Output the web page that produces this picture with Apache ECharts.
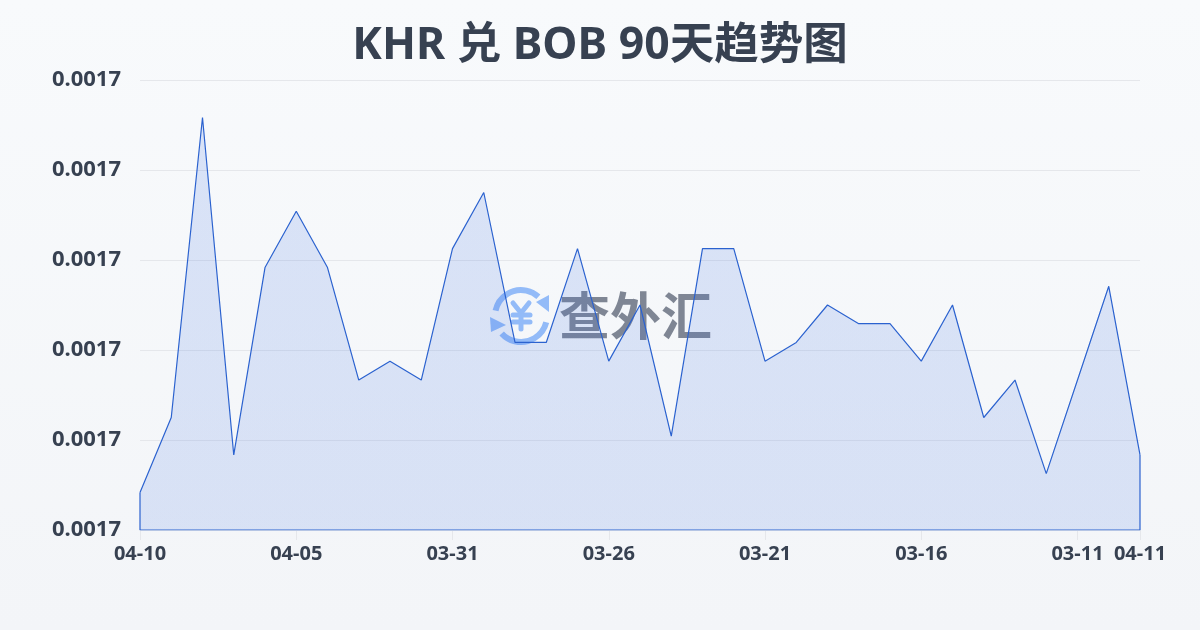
<!DOCTYPE html>
<html>
<head>
<meta charset="utf-8">
<style>
html,body{margin:0;padding:0;background:#f8fafc}
#chart{width:1200px;height:630px}
</style>
<script src="https://cdn.jsdelivr.net/npm/echarts@6/dist/echarts.min.js"></script>
</head>
<body>
<div id="chart"></div>
<script>
var titleText = 'KHR 兑 BOB 90天趋势图';
var categories = ['04-10','04-09','04-08','04-07','04-06','04-05','04-04','04-03','04-02','04-01','03-31','03-30','03-29','03-28','03-27','03-26','03-25','03-24','03-23','03-22','03-21','03-20','03-19','03-18','03-17','03-16','03-15','03-14','03-13','03-12','03-11','03-10','04-11'];
var rates = [0.00170208,0.00170625,0.00172292,0.00170417,0.00171458,0.00171771,0.00171458,0.00170833,0.00170938,0.00170833,0.00171563,0.00171875,0.00171042,0.00171042,0.00171563,0.00170938,0.0017125,0.00170521,0.00171563,0.00171563,0.00170938,0.00171042,0.0017125,0.00171146,0.00171146,0.00170938,0.0017125,0.00170625,0.00170833,0.00170313,0.00170833,0.00171354,0.00170417];
var yMin = 0.0017, yMax = 0.001725, yStep = 0.000005;
var lastIdx = categories.length - 1;

var chart = echarts.init(document.getElementById('chart'));
var fontMain = '"Noto Sans","Noto Sans CJK SC",sans-serif';
var textColor = '#374151';
var lineColor = '#2b62cf';
var logoColor = '#93bbf8';

// 隔5个显示一个,最后一个也要
var showTick = function(idx){ return idx % 5 === 0 || idx === lastIdx; };

// 水印里的¥符号
var yenLine = function(x1,y1,x2,y2){
    return {type:'line',z:0,silent:true,shape:{x1:x1,y1:y1,x2:x2,y2:y2},style:{stroke:logoColor,lineWidth:5,lineCap:'round'}};
};

chart.setOption({
    backgroundColor: new echarts.graphic.LinearGradient(0,0,0,1,[
        {offset:0,color:'#f8fafc'},{offset:1,color:'#f3f5f8'}
    ]),
    animation: false,
    title: {
        text: titleText,
        left: 'center',
        top: 19,
        textStyle: {color:textColor,fontSize:44.5,fontWeight:'bold',fontFamily:fontMain}
    },
    grid: {left:140,right:60,top:80,bottom:100},
    xAxis: {
        type:'category',
        boundaryGap:false,
        data:categories,
        axisLine:{show:false},
        axisTick:{show:true,interval:showTick,length:10,lineStyle:{color:'#e5e7eb'}},
        axisLabel:{interval:showTick,color:textColor,fontSize:20,fontWeight:'bold',fontFamily:fontMain,margin:14,hideOverlap:false}
    },
    yAxis: {
        type:'value',
        min:yMin,
        max:yMax,
        interval:yStep,
        axisLine:{show:false},
        axisTick:{show:false},
        splitLine:{lineStyle:{color:'#e5e7eb',width:1}},
        axisLabel:{color:textColor,fontSize:22,fontWeight:'bold',fontFamily:fontMain,margin:19,
            formatter:function(v){return v.toFixed(4);}}
    },
    graphic: [
        {type:'arc',z:0,silent:true,shape:{cx:521,cy:316,r:26,startAngle:192*Math.PI/180,endAngle:312*Math.PI/180,clockwise:true},style:{fill:'none',stroke:logoColor,lineWidth:6}},
        {type:'arc',z:0,silent:true,shape:{cx:521,cy:316,r:26,startAngle:14*Math.PI/180,endAngle:138*Math.PI/180,clockwise:true},style:{fill:'none',stroke:logoColor,lineWidth:6}},
        {type:'polygon',z:0,silent:true,shape:{points:[[536,302],[549,295],[549,312]]},style:{fill:logoColor}},
        {type:'polygon',z:0,silent:true,shape:{points:[[490,317],[506,325],[491,332]]},style:{fill:logoColor}},
        yenLine(513,303,521,313),
        yenLine(529,303,521,313),
        yenLine(513,315,530,315),
        yenLine(513,322,530,322),
        yenLine(521,313,521,329),
        {type:'text',z:0,silent:true,x:559,y:316,style:{text:'查外汇',fill:'#7f8694',font:'bold 51px "Noto Sans CJK SC"',align:'left',verticalAlign:'middle'}}
    ],
    series: [
        {
            type:'line',
            data:rates,
            symbol:'none',
            z:3,
            lineStyle:{color:lineColor,width:1.2},
            areaStyle:{opacity:1,color:new echarts.graphic.LinearGradient(0,0,0,1,[
                {offset:0,color:'rgba(59,110,225,0.16)'},{offset:1,color:'rgba(59,110,225,0.15)'}
            ])}
        },
        {
            // 面积的左右下边框
            type:'line',
            data:[[lastIdx,rates[lastIdx]],[lastIdx,yMin],[0,yMin],[0,rates[0]]],
            symbol:'none',
            z:4,
            lineStyle:{color:lineColor,width:1.2}
        }
    ]
});
</script>
</body>
</html>
